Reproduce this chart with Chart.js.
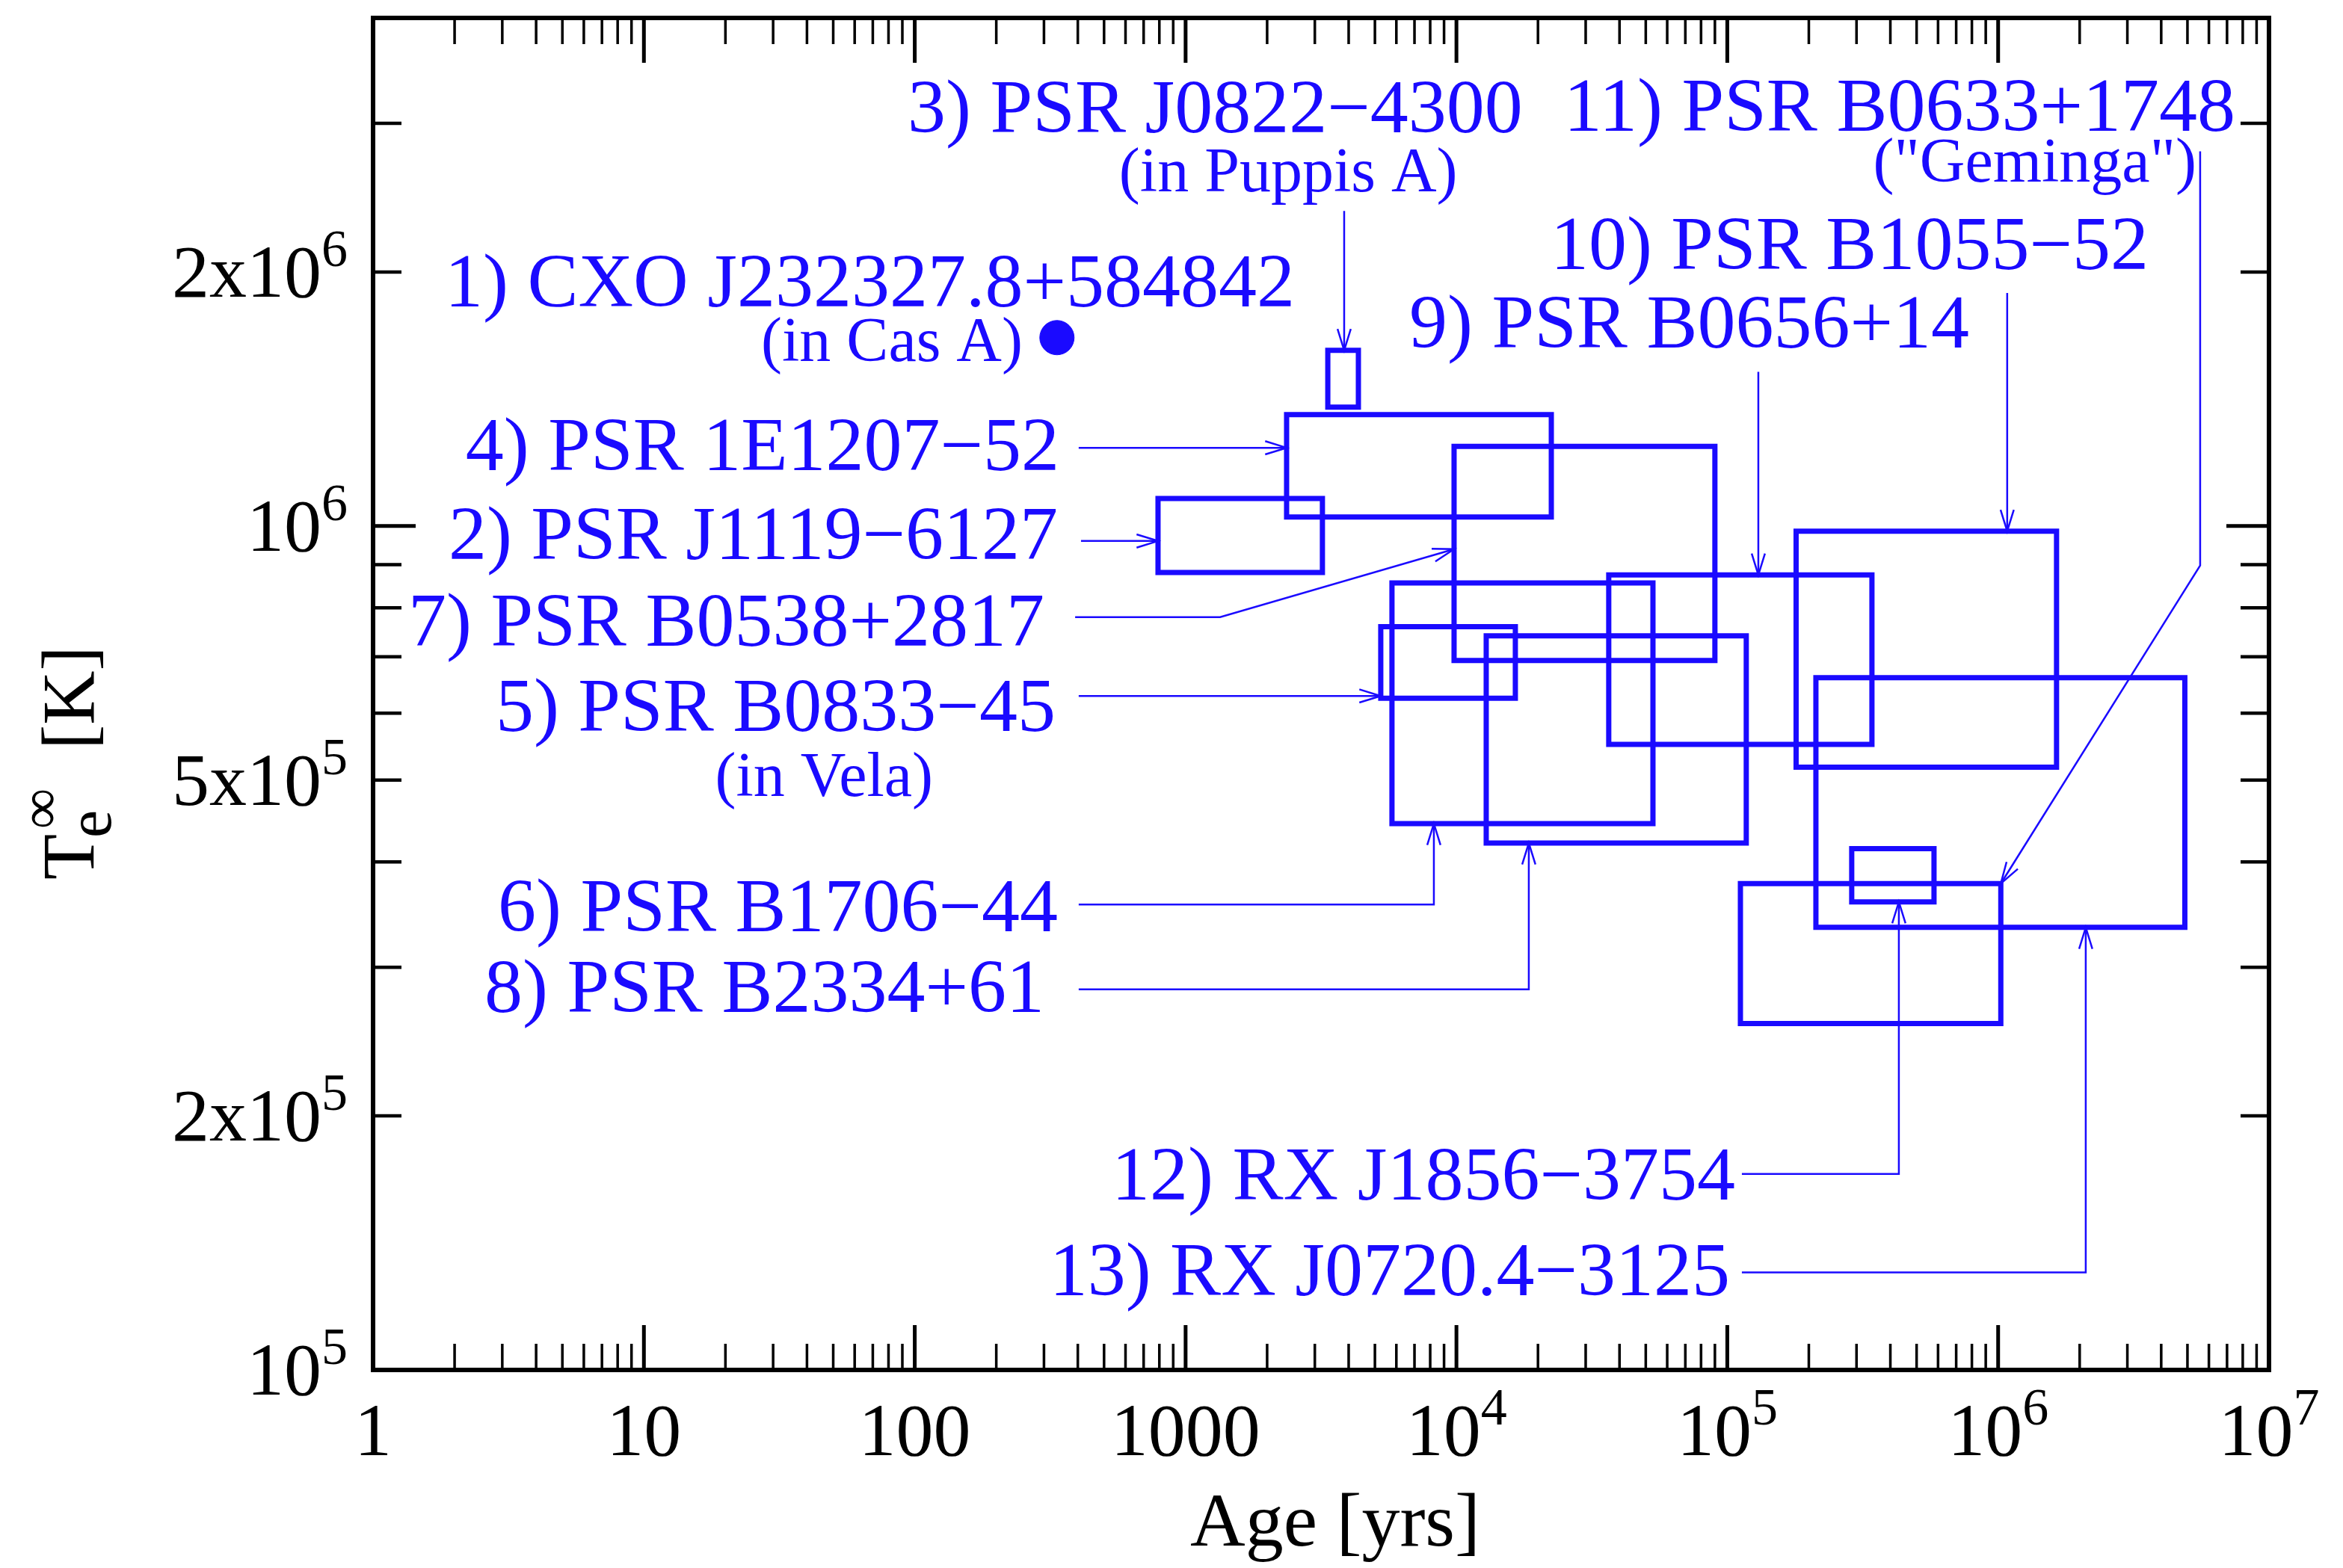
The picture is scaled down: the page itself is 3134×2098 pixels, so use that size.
<!DOCTYPE html>
<html>
<head>
<meta charset="utf-8">
<title>Neutron star surface temperatures vs age</title>
<script src="https://cdn.jsdelivr.net/npm/chart.js@4.4.1/dist/chart.umd.min.js"></script>
<style>
    html, body { margin: 0; padding: 0; background: #fff; }
    canvas { display: block; }
</style>
</head>
<body>
<canvas id="cooling-chart" width="3134" height="2098"></canvas>
<script>
// Sources 2..13: age range [yrs] and temperature range [K] of each box
const boxNames = ['PSR J1119-6127', 'PSR J0822-4300', 'PSR 1E1207-52', 'PSR B0833-45', 'PSR B1706-44', 'PSR B0538+2817',
    'PSR B2334+61', 'PSR B0656+14', 'PSR B1055-52', 'PSR B0633+1748', 'RX J1856-3754', 'RX J0720.4-3125'];
const ageMin = [791, 3350, 2360, 5255, 5780, 9800, 12880, 36500, 179500, 111800, 288000, 212400];
const ageMax = [3200, 4345, 22400, 16500, 53150, 90000, 117500, 342000, 1643000, 1023000, 579700, 4890000];
const tempMin = [8.81e5, 1.383e6, 1.025e6, 6.25e5, 4.44e5, 6.93e5, 4.21e5, 5.51e5, 5.18e5, 2.573e5, 3.586e5, 3.345e5];
const tempMax = [1.078e6, 1.615e6, 1.355e6, 7.6e5, 8.56e5, 1.243e6, 7.41e5, 8.75e5, 9.86e5, 3.77e5, 4.147e5, 6.61e5];

// Source 1: single point (CXO J232327.8+584842 in Cas A)
const pointAge = [335];
const pointTemp = [1.672e6];

// Axis ticks
const xTickValues = [1, 10, 100, 1000, 1e4, 1e5, 1e6, 1e7];
const xTickLabels = [['1', ''], ['10', ''], ['100', ''], ['1000', ''], ['10', '4'], ['10', '5'], ['10', '6'], ['10', '7']];
const yTickValues = [1e5, 2e5, 5e5, 1e6, 2e6];
const yTickLabels = [['10', '5'], ['2x10', '5'], ['5x10', '5'], ['10', '6'], ['2x10', '6']];

const BLUE = '#1a0aff';
const SERIF = '"Liberation Serif", "Times New Roman", serif';

// Leader lines from the labels to the boxes, in data units (age, temperature)
const arrows = [
    [[3850, 2.362e6], [3850, 1.615e6]],
    [[5.57e6, 2.78e6], [5.57e6, 8.978e5], [1.023e6, 3.77e5]],
    [[1.08e6, 1.889e6], [1.08e6, 9.86e5]],
    [[130200, 1.523e6], [130200, 8.75e5]],
    [[403, 1.238e6], [2360, 1.238e6]],
    [[411, 9.6e5], [791, 9.6e5]],
    [[391, 7.8e5], [1341, 7.8e5], [9800, 9.39e5]],
    [[403, 6.29e5], [5255, 6.29e5]],
    [[403, 3.56e5], [8254, 3.56e5], [8254, 4.44e5]],
    [[403, 2.825e5], [18500, 2.825e5], [18500, 4.21e5]],
    [[113200, 1.707e5], [430000, 1.707e5], [430000, 3.586e5]],
    [[113200, 1.305e5], [2.106e6, 1.305e5], [2.106e6, 3.345e5]]
];

// Text annotations anchored in data units
const labels = [
    { text: '1) CXO J232327.8+584842', age: 2531, temp: 1.82e6, align: 'right', size: 102 },
    { text: '(in Cas A)', age: 250.4, temp: 1.57e6, align: 'right', size: 84 },
    { text: '3) PSR J0822\u22124300', age: 94.1, temp: 2.93e6, align: 'left', size: 102 },
    { text: '(in Puppis A)', age: 568, temp: 2.49e6, align: 'left', size: 84 },
    { text: '11) PSR B0633+1748', age: 7.51e6, temp: 2.94e6, align: 'right', size: 102 },
    { text: '("Geminga")', age: 5.395e6, temp: 2.56e6, align: 'right', size: 84 },
    { text: '10) PSR B1055\u221252', age: 3.592e6, temp: 2.015e6, align: 'right', size: 102 },
    { text: '9) PSR B0656+14', age: 6692, temp: 1.628e6, align: 'left', size: 102 },
    { text: '4) PSR 1E1207\u221252', age: 342, temp: 1.165e6, align: 'right', size: 102 },
    { text: '2) PSR J1119\u22126127', age: 337.6, temp: 9.14e5, align: 'right', size: 102 },
    { text: '7) PSR B0538+2817', age: 301, temp: 7.22e5, align: 'right', size: 102 },
    { text: '5) PSR B0833\u221245', age: 331, temp: 5.72e5, align: 'right', size: 102 },
    { text: '(in Vela)', age: 116.8, temp: 4.79e5, align: 'right', size: 84 },
    { text: '6) PSR B1706\u221244', age: 337.6, temp: 3.31e5, align: 'right', size: 102 },
    { text: '8) PSR B2334+61', age: 301, temp: 2.657e5, align: 'right', size: 102 },
    { text: '12) RX J1856\u22123754', age: 106900, temp: 1.592e5, align: 'right', size: 102 },
    { text: '13) RX J0720.4\u22123125', age: 102300, temp: 1.227e5, align: 'right', size: 102 }
];

// Build datasets: one closed polyline per box, the leader lines, and the Cas A point
const boxDatasets = boxNames.map((name, i) => ({
    label: name,
    showLine: true,
    data: [
        { x: ageMin[i], y: tempMin[i] },
        { x: ageMax[i], y: tempMin[i] },
        { x: ageMax[i], y: tempMax[i] },
        { x: ageMin[i], y: tempMax[i] },
        { x: ageMin[i], y: tempMin[i] }
    ],
    borderColor: BLUE,
    borderWidth: 7,
    borderJoinStyle: 'miter',
    borderCapStyle: 'square',
    pointRadius: 0,
    tension: 0,
    fill: false
}));

const arrowDatasets = arrows.map((path, i) => ({
    label: 'arrow' + i,
    showLine: true,
    data: path.map(p => ({ x: p[0], y: p[1] })),
    borderColor: BLUE,
    borderWidth: 2.5,
    pointRadius: 0,
    tension: 0,
    fill: false
}));

const pointDataset = {
    label: 'CXO J232327.8+584842',
    data: pointAge.map((a, i) => ({ x: a, y: pointTemp[i] })),
    backgroundColor: BLUE,
    borderColor: BLUE,
    pointRadius: 23,
    pointHoverRadius: 23
};

// Draws a number with an optional superscript
function drawPower(ctx, base, sup, x, yBase, align) {
    ctx.font = '100px ' + SERIF;
    const wb = ctx.measureText(base).width;
    ctx.font = '70px ' + SERIF;
    const ws = sup ? ctx.measureText(sup).width : 0;
    const total = wb + ws;
    let start = x;
    if (align === 'center') start = x - total / 2;
    if (align === 'right') start = x - total;
    ctx.textAlign = 'left';
    ctx.font = '100px ' + SERIF;
    ctx.fillText(base, start, yBase);
    if (sup) {
        ctx.font = '70px ' + SERIF;
        ctx.fillText(sup, start + wb, yBase - 41);
    }
}

const overlay = {
    id: 'overlay',
    afterDatasetsDraw(chart) {
        const { ctx, chartArea: a, scales } = chart;
        const xs = scales.x, ys = scales.y;
        ctx.save();

        // arrow heads (open V) at the end of each leader line
        ctx.strokeStyle = BLUE;
        ctx.lineWidth = 2.5;
        arrows.forEach(path => {
            const n = path.length;
            const x1 = xs.getPixelForValue(path[n - 2][0]), y1 = ys.getPixelForValue(path[n - 2][1]);
            const x2 = xs.getPixelForValue(path[n - 1][0]), y2 = ys.getPixelForValue(path[n - 1][1]);
            const ang = Math.atan2(y2 - y1, x2 - x1);
            const len = 30, spread = 0.3;
            ctx.beginPath();
            ctx.moveTo(x2 - len * Math.cos(ang - spread), y2 - len * Math.sin(ang - spread));
            ctx.lineTo(x2, y2);
            ctx.lineTo(x2 - len * Math.cos(ang + spread), y2 - len * Math.sin(ang + spread));
            ctx.stroke();
        });

        // annotation text
        ctx.fillStyle = BLUE;
        ctx.textBaseline = 'alphabetic';
        labels.forEach(l => {
            ctx.font = l.size + 'px ' + SERIF;
            ctx.textAlign = l.align;
            ctx.fillText(l.text, xs.getPixelForValue(l.age), ys.getPixelForValue(l.temp));
        });

        // frame
        ctx.strokeStyle = '#000';
        ctx.lineWidth = 6;
        ctx.strokeRect(a.left, a.top, a.right - a.left, a.bottom - a.top);

        // x ticks, bottom and top, pointing inwards
        for (let d = 0; d <= 7; d++) {
            for (let m = 1; m <= 9; m++) {
                const v = m * Math.pow(10, d);
                if (v > 1e7) break;
                const px = xs.getPixelForValue(v);
                const len = m === 1 ? 60 : 35;
                ctx.lineWidth = m === 1 ? 5 : 3.5;
                ctx.beginPath();
                ctx.moveTo(px, a.bottom);
                ctx.lineTo(px, a.bottom - len);
                ctx.moveTo(px, a.top);
                ctx.lineTo(px, a.top + len);
                ctx.stroke();
            }
        }

        // y ticks, left and right
        for (let d = 5; d <= 6; d++) {
            for (let m = 1; m <= 9; m++) {
                const v = m * Math.pow(10, d);
                if (v > 4e6) break;
                const py = ys.getPixelForValue(v);
                const len = m === 1 ? 57 : 38;
                ctx.lineWidth = m === 1 ? 5 : 4.5;
                ctx.beginPath();
                ctx.moveTo(a.left, py);
                ctx.lineTo(a.left + len, py);
                ctx.moveTo(a.right, py);
                ctx.lineTo(a.right - len, py);
                ctx.stroke();
            }
        }

        // tick labels
        ctx.fillStyle = '#000';
        xTickValues.forEach((v, i) => {
            drawPower(ctx, xTickLabels[i][0], xTickLabels[i][1], xs.getPixelForValue(v), a.bottom + 114, 'center');
        });
        yTickValues.forEach((v, i) => {
            drawPower(ctx, yTickLabels[i][0], yTickLabels[i][1], a.left - 34, ys.getPixelForValue(v) + 33, 'right');
        });

        // x axis title
        ctx.font = '102px ' + SERIF;
        ctx.textAlign = 'center';
        ctx.fillText('Age [yrs]', (a.left + a.right) / 2 + 19, a.bottom + 235);

        // y axis title: T_e^inf [K], rotated
        ctx.save();
        ctx.translate(a.left - 374, a.top + 1153);
        ctx.rotate(-Math.PI / 2);
        ctx.textAlign = 'left';
        ctx.font = '100px ' + SERIF;
        ctx.fillText('T', 0, 0);
        ctx.font = '84px ' + SERIF;
        ctx.fillText('e', 56, 23);
        ctx.font = '76px ' + SERIF;
        ctx.fillText('\u221E', 68, -46);
        ctx.font = '100px ' + SERIF;
        ctx.fillText('[K]', 174, 0);
        ctx.restore();

        ctx.restore();
    }
};

document.addEventListener('DOMContentLoaded', () => {
    new Chart(document.getElementById('cooling-chart'), {
        type: 'scatter',
        data: {
            datasets: [...boxDatasets, ...arrowDatasets, pointDataset]
        },
        options: {
            responsive: false,
            animation: false,
            layout: {
                padding: { left: 499, right: 99, top: 18, bottom: 265 }
            },
            plugins: {
                legend: { display: false },
                tooltip: { enabled: false }
            },
            scales: {
                x: { type: 'logarithmic', min: 1, max: 1e7, display: false },
                y: { type: 'logarithmic', min: 1e5, max: 4e6, display: false }
            }
        },
        plugins: [overlay]
    });
});
</script>
</body>
</html>
